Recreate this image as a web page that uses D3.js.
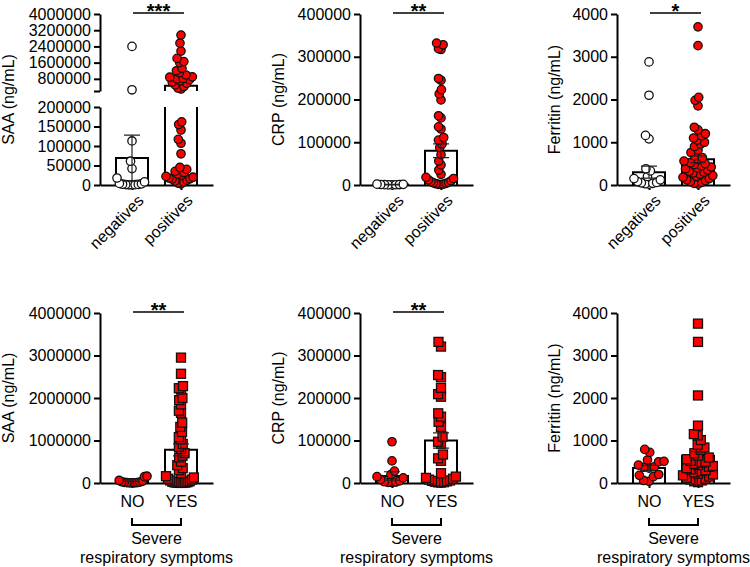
<!DOCTYPE html>
<html>
<head>
<meta charset="utf-8">
<script src="https://cdn.jsdelivr.net/npm/d3@7"></script>
<style>
body { margin: 0; background: #fff; }
text { font-family: "Liberation Sans", Arial, sans-serif; fill: #000; }
</style>
</head>
<body>
<div id="chart"></div>
<script>
var width = 750, height = 567;

// categories
var groups = ["negatives", "positives"];
var severity = ["NO", "YES"];

// top row: negatives / positives
var saaNeg = [2400000, 260000, 113000, 61000, 42000, 18000, 8000, 4000, 3000, 2000, 1500, 1000, 800, 500, 300];
var saaPos = [2960000, 2560000, 2170000, 1810000, 1650000, 1600000, 1320000, 1200000, 1100000, 990000, 900000, 880000,
	820000, 800000, 760000, 700000, 640000, 580000, 500000, 420000, 350000, 300000,
	162000, 155000, 141000, 117000, 107000, 80000, 45000, 40000, 35000, 32000, 28000, 25000, 22000, 20000, 18000,
	16000, 15000, 12000, 10000, 8000, 5000, 3000];
var crpNeg = [2000, 1500, 1200, 1000, 800, 600, 400, 200];
var crpPos = [332000, 328000, 319000, 317000, 249000, 245000, 223000, 213000, 199000, 162000, 157000, 136000, 131000,
	111000, 105000, 96000, 88000, 71000, 56000, 47000, 35000, 25000, 18000, 15000, 12000, 10000, 8000, 6000, 5000,
	4000, 3000, 2000, 1500, 1000];
var ferNeg = [2880, 2100, 1160, 1080, 380, 330, 200, 150, 120, 80, 60, 50, 40, 30, 20];
var ferPos = [3700, 3260, 2050, 1980, 1850, 1350, 1290, 1200, 1150, 1100, 1050, 1000, 960, 900, 820, 760, 680, 640,
	600, 560, 520, 500, 480, 450, 420, 400, 380, 350, 320, 300, 280, 250, 220, 200, 180, 150, 120, 100, 80, 60, 40, 20];

// bottom row: severe respiratory symptoms NO / YES
var saaNo = [160000, 150000, 60000, 40000, 30000, 20000, 15000, 10000, 8000, 5000, 3000, 2000];
var saaYes = [2950000, 2570000, 2280000, 2230000, 2200000, 2000000, 1950000, 1850000, 1700000, 1650000, 1420000, 1320000,
	1200000, 1080000, 1030000, 920000, 850000, 800000, 700000, 640000, 600000, 500000, 420000, 350000, 300000,
	230000, 160000, 130000, 100000, 80000, 60000, 40000, 30000, 20000, 15000, 10000, 8000, 5000, 3000, 2000];
var crpNo = [97000, 52000, 28000, 20000, 15000, 12000, 8000, 5000, 3000, 2000, 1500, 1000];
var crpYes = [332000, 321000, 254000, 249000, 224000, 209000, 203000, 164000, 156000, 144000, 132000, 109000, 97000,
	92000, 67000, 58000, 52000, 23000, 15000, 12000, 10000, 8000, 6000, 5000, 4000, 3000, 2000, 1500, 1000];
var ferNo = [790, 720, 540, 510, 500, 420, 380, 370, 350, 200, 180, 150, 60, 40];
var ferYes = [3750, 3320, 2060, 1350, 1150, 1120, 1010, 900, 835, 780, 700, 640, 600, 560, 520, 500, 480, 450, 420,
	400, 380, 350, 320, 300, 280, 250, 220, 200, 180, 150, 120, 100, 80, 60, 40, 20];

// bar heights (mean) and error (sem)
var saaBars = [69000, 460000], saaSem = [59000, 0];
var crpBars = [1000, 80000], crpSem = [500, 16000];
var ferBars = [300, 600], ferSem = [140, 80];
var saaSevBars = [55000, 780000], saaSevSem = [20000, 140000];
var crpSevBars = [16500, 100000], crpSevSem = [10000, 18000];
var ferSevBars = [355, 640], ferSevSem = [60, 100];

// tick labels
var saaTicksUp = [800000, 1600000, 2400000, 3200000, 4000000];
var saaTicksLow = [0, 50000, 100000, 150000, 200000];
var saaTicks = [0, 1000000, 2000000, 3000000, 4000000];
var crpTicks = [0, 100000, 200000, 300000, 400000];
var ferTicks = [0, 1000, 2000, 3000, 4000];

var panels = [
	{col: 0, row: 0, cats: groups, series: [saaNeg, saaPos], bars: saaBars, sem: saaSem, ticks: saaTicks, max: 4000000,
		label: "SAA (ng/mL)", sig: "***", marks: ["open", "circle"], broken: true},
	{col: 1, row: 0, cats: groups, series: [crpNeg, crpPos], bars: crpBars, sem: crpSem, ticks: crpTicks, max: 400000,
		label: "CRP (ng/mL)", sig: "**", marks: ["open", "circle"]},
	{col: 2, row: 0, cats: groups, series: [ferNeg, ferPos], bars: ferBars, sem: ferSem, ticks: ferTicks, max: 4000,
		label: "Ferritin (ng/mL)", sig: "*", marks: ["open", "circle"]},
	{col: 0, row: 1, cats: severity, series: [saaNo, saaYes], bars: saaSevBars, sem: saaSevSem, ticks: saaTicks, max: 4000000,
		label: "SAA (ng/mL)", sig: "**", marks: ["circle", "square"]},
	{col: 1, row: 1, cats: severity, series: [crpNo, crpYes], bars: crpSevBars, sem: crpSevSem, ticks: crpTicks, max: 400000,
		label: "CRP (ng/mL)", sig: "**", marks: ["circle", "square"]},
	{col: 2, row: 1, cats: severity, series: [ferNo, ferYes], bars: ferSevBars, sem: ferSevSem, ticks: ferTicks, max: 4000,
		label: "Ferritin (ng/mL)", sig: null, marks: ["circle", "square"]}
];

var axisX = [100, 360, 617];
var labelX = [8, 278, 554];
var rows = [{base: 185, top: 14}, {base: 483, top: 313}];
var axisLen = 113, barW = 32, red = "#f00";

var svg = d3.select("#chart").append("svg")
	.attr("width", width)
	.attr("height", height);

// simple beeswarm: place each point as close to the center as it can go
function swarm(values, yMap, cx, d, maxSpread) {
	var pts = values.map(function(v) { return {v: v, y: yMap(v)}; })
		.sort(function(a, b) { return b.y - a.y; });
	var placed = [];
	pts.forEach(function(p) {
		var near = placed.filter(function(q) { return Math.abs(q.y - p.y) < d; });
		var cands = [0];
		near.forEach(function(q) {
			var h = Math.sqrt(d * d - (q.y - p.y) * (q.y - p.y));
			cands.push(q.dx - h, q.dx + h);
		});
		cands.sort(function(a, b) { return Math.abs(a) - Math.abs(b); });
		p.dx = cands.find(function(c) {
			return near.every(function(q) { return (q.dx - c) * (q.dx - c) + (q.y - p.y) * (q.y - p.y) >= d * d - 0.01; });
		});
		placed.push(p);
	});
	var m = d3.max(placed, function(p) { return Math.abs(p.dx); });
	var k = m > maxSpread ? maxSpread / m : 1;
	placed.forEach(function(p) { p.x = cx + p.dx * k; });
	return placed;
}

function styleAxis(sel) {
	sel.select(".domain").attr("stroke", "#000").attr("stroke-width", 2);
	sel.selectAll(".tick line").attr("stroke", "#000").attr("stroke-width", 2);
	sel.selectAll("text").style("font-size", "16px").attr("fill", "#000");
}

panels.forEach(function(p) {
	var ax = axisX[p.col], r = rows[p.row];
	var g = svg.append("g");

	var x = d3.scalePoint()
		.domain(p.cats)
		.range([ax, ax + axisLen])
		.padding(0.653);

	var segs;
	if (p.broken) {
		var up = d3.scaleLinear().domain([200000, p.max]).range([91, r.top]);
		var low = d3.scaleLinear().domain([0, 200000]).range([r.base, 107]);
		segs = [{y: up, ticks: [200000].concat(saaTicksUp), lo: 200000, hi: p.max},
			{y: low, ticks: saaTicksLow, lo: 0, hi: 200000}];
	} else {
		var y = d3.scaleLinear().domain([0, p.max]).range([r.base, r.top]);
		segs = [{y: y, ticks: p.ticks, lo: 0, hi: p.max}];
	}
	var yMap = function(v) {
		for (var i = 0; i < segs.length; i++) {
			if (v >= segs[i].lo && v <= segs[i].hi) return segs[i].y(v);
		}
		return segs[segs.length - 1].y(v);
	};

	// y axis
	segs.forEach(function(s) {
		g.append("g")
			.attr("transform", "translate(" + ax + ",0)")
			.call(d3.axisLeft(s.y).tickValues(s.ticks).tickSize(6).tickSizeOuter(0).tickPadding(3)
				.tickFormat(function(d) { return (p.broken && d === 200000 && s.lo === 200000) ? "" : d3.format("d")(d); }))
			.call(styleAxis);
	});

	g.append("text")
		.attr("transform", "translate(" + labelX[p.col] + "," + ((r.base + r.top) / 2) + ") rotate(-90)")
		.attr("text-anchor", "middle")
		.attr("dy", "0.35em")
		.style("font-size", "16px")
		.text(p.label);

	// x axis
	var xAxis = g.append("g")
		.attr("transform", "translate(0," + r.base + ")")
		.call(d3.axisBottom(x).tickSize(5).tickSizeOuter(0).tickPadding(8))
		.call(styleAxis);
	if (p.row === 0) {
		xAxis.selectAll(".tick text")
			.style("text-anchor", "end")
			.attr("x", -3)
			.attr("y", 9)
			.attr("dy", "0.71em")
			.attr("transform", "rotate(-45)");
	}

	// bars (outline only, drawn in each axis segment)
	p.bars.forEach(function(b, i) {
		var x0 = x(p.cats[i]) - barW / 2, x1 = x(p.cats[i]) + barW / 2;
		segs.forEach(function(s) {
			if (b <= s.lo) return;
			var yb = s.y(s.lo), yt = s.y(Math.min(b, s.hi));
			var path = b <= s.hi
				? "M" + x0 + "," + yb + "V" + yt + "H" + x1 + "V" + yb
				: "M" + x0 + "," + yt + "V" + yb + "M" + x1 + "," + yt + "V" + yb;
			g.append("path")
				.attr("d", path)
				.attr("fill", "none")
				.attr("stroke", "#000")
				.attr("stroke-width", 2);
		});
	});

	// points
	p.series.forEach(function(vals, i) {
		var pts = swarm(vals, yMap, x(p.cats[i]), 8.4, 15);
		var mk = p.marks[i];
		if (mk === "square") {
			g.selectAll(null).data(pts).enter().append("rect")
				.attr("x", function(d) { return d.x - 4.5; })
				.attr("y", function(d) { return d.y - 4.5; })
				.attr("width", 9)
				.attr("height", 9)
				.attr("fill", red)
				.attr("stroke", "#111")
				.attr("stroke-width", 1.3);
		} else {
			g.selectAll(null).data(pts).enter().append("circle")
				.attr("cx", function(d) { return d.x; })
				.attr("cy", function(d) { return d.y; })
				.attr("r", 4.2)
				.attr("fill", mk === "open" ? "#fff" : red)
				.attr("stroke", "#111")
				.attr("stroke-width", 1.3);
		}
	});

	// error bars
	p.bars.forEach(function(b, i) {
		if (!p.sem[i]) return;
		var cx = x(p.cats[i]);
		var yt = yMap(b + p.sem[i]), yl = yMap(Math.max(0, b - p.sem[i]));
		g.append("path")
			.attr("d", "M" + cx + "," + yl + "V" + yt + "M" + (cx - 8) + "," + yt + "H" + (cx + 8)
				+ "M" + (cx - 8) + "," + yl + "H" + (cx + 8))
			.attr("fill", "none")
			.attr("stroke", "#222")
			.attr("stroke-width", 1.2);
	});

	// significance
	if (p.sig) {
		var ly = r.top - 1;
		var xa = x(p.cats[0]) + 1, xb = x(p.cats[1]) + 3;
		g.append("line")
			.attr("x1", xa).attr("x2", xb)
			.attr("y1", ly).attr("y2", ly)
			.attr("stroke", "#000")
			.attr("stroke-width", 1.6);
		g.append("text")
			.attr("x", (xa + xb) / 2)
			.attr("y", ly + 5)
			.attr("text-anchor", "middle")
			.style("font-size", "20px")
			.style("font-weight", "bold")
			.text(p.sig);
	}

	// bracket under the bottom row
	if (p.row === 1) {
		var xa2 = x(p.cats[0]), xb2 = x(p.cats[1]), mid = (xa2 + xb2) / 2;
		g.append("path")
			.attr("d", "M" + xa2 + ",518V525H" + xb2 + "V518")
			.attr("fill", "none")
			.attr("stroke", "#000")
			.attr("stroke-width", 2);
		g.append("text").attr("x", mid).attr("y", 544).attr("text-anchor", "middle")
			.style("font-size", "16px").text("Severe");
		g.append("text").attr("x", mid).attr("y", 563).attr("text-anchor", "middle")
			.style("font-size", "16px").text("respiratory symptoms");
	}
});
</script>
</body>
</html>
